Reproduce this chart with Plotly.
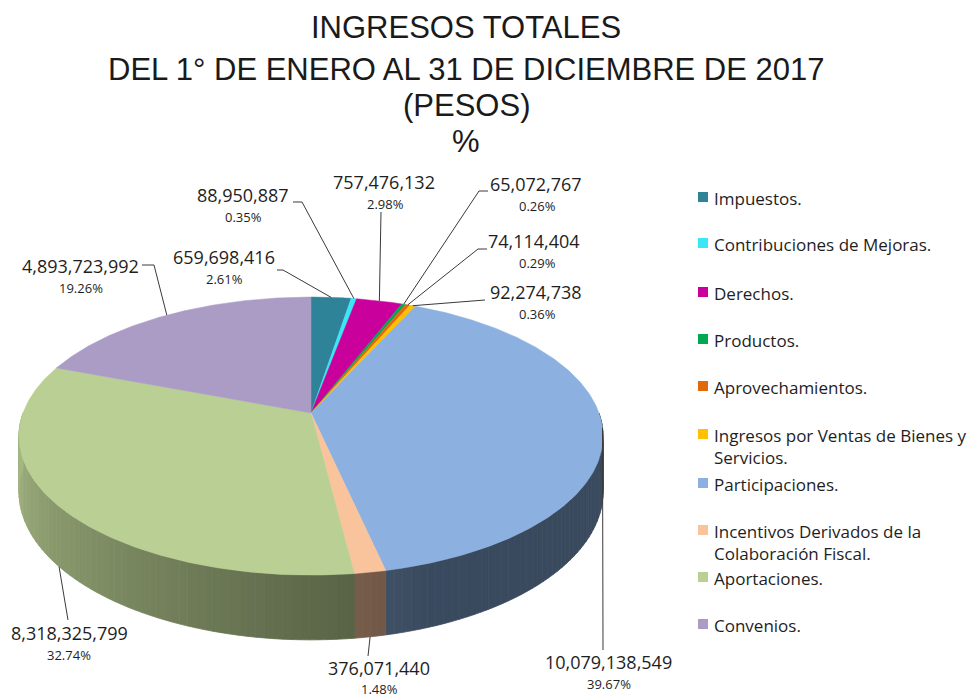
import numpy as np
import plotly.graph_objects as go

# ---------------- data ----------------
categories = ["Impuestos.", "Contribuciones de Mejoras.", "Derechos.", "Productos.",
              "Aprovechamientos.", "Ingresos por Ventas de Bienes y Servicios.",
              "Participaciones.", "Incentivos Derivados de la Colaboración Fiscal.",
              "Aportaciones.", "Convenios."]
values = [659698416, 88950887, 757476132, 65072767, 74114404, 92274738,
          10079138549, 376071440, 8318325799, 4893723992]
percent_labels = ["2.61%", "0.35%", "2.98%", "0.26%", "0.29%", "0.36%",
                  "39.67%", "1.48%", "32.74%", "19.26%"]
legend_labels = ["Impuestos.", "Contribuciones de Mejoras.", "Derechos.", "Productos.",
                 "Aprovechamientos.", "Ingresos por Ventas de Bienes y<br>Servicios.",
                 "Participaciones.", "Incentivos Derivados de la<br>Colaboración Fiscal.",
                 "Aportaciones.", "Convenios."]
title_lines = ["INGRESOS TOTALES", "DEL 1° DE ENERO AL 31 DE DICIEMBRE DE 2017", "(PESOS)", "%"]

# ---------------- styles / layout ----------------
colors = ["#2F8399", "#3BE6F6", "#C9009B", "#00A850", "#E2680C", "#FFC000",
          "#8CB1E0", "#F9C49C", "#BACF93", "#AA9CC4"]

CX, CY = 311.0, 413.0      # projected centre of the pie (pixels)
A, B = 288.0, 135.2        # horizontal / vertical radii
K = 0.166                  # perspective strength
D = 54.0                   # thickness

# label text centres (value line, percent line) and leader elbows
label_pos = [((224, 257), (224, 279)), ((243, 195), (243, 217)), ((384, 182), (385, 204)),
             ((536, 184), (537, 206)), ((534, 241), (537, 263)), ((536, 292), (537, 314)),
             ((608, 662), (609, 684)), ((379, 668), (379, 689)), ((69, 633), (69, 655)),
             ((80, 266), (81, 288))]
leader_elbows = [[(283, 270), (277, 270)], [(302, 202), (293, 202)], [(381, 212)],
                 [(479, 191), (488, 191)], [(478, 249), (487, 249)], [(485, 300)],
                 [(603, 650)], [(368, 656)], [(68, 620)], [(154, 265), (142, 265)]]
legend_y = [197, 243, 292, 339, 386, 434, 483, 530, 577, 624]
title_y = [27, 69, 105, 141]


def proj(theta, drop=0.0):
    t = np.radians(theta)
    u, v = np.sin(t), np.cos(t)
    w = 1 + K * v
    return CX + A * u / w, CY - B * v / w + drop * D / w


def shade(hexcol, f):
    h = hexcol.lstrip("#")
    r, g, b = (int(h[i:i + 2], 16) for i in (0, 2, 4))
    return "rgb(%d,%d,%d)" % (r * f, g * f, b * f)


total = float(sum(values))
frac = np.array(values, dtype=float) / total
ends = np.cumsum(frac) * 360.0
starts = ends - frac * 360.0

fig = go.Figure()

# ---- side walls (front half only) ----
STEP = 1.5
for i in range(len(values)):
    a, b = max(starts[i], 90.0), min(ends[i], 270.0)
    if a >= b:
        continue
    n = int(np.ceil((b - a) / STEP))
    edges = np.linspace(a, b, n + 1)
    for j in range(n):
        t0, t1 = edges[j], edges[j + 1]
        ts = np.linspace(t0, t1, 4)
        xt, yt = proj(ts, 0)
        xb, yb = proj(ts[::-1], 1)
        xs = np.concatenate([xt, xb, xt[:1]])
        ys = np.concatenate([yt, yb, yt[:1]])
        tm = 0.5 * (t0 + t1)
        tt = (270.0 - tm) / 180.0
        f = max(0.42, 0.9 - 0.78 * tt)
        c = shade(colors[i], f)
        fig.add_trace(go.Scatter(x=xs, y=ys, mode="lines", fill="toself", fillcolor=c,
                                 line=dict(color=c, width=0.8), hoverinfo="skip",
                                 showlegend=False))

# ---- top faces ----
for i in range(len(values)):
    n = max(3, int(np.ceil((ends[i] - starts[i]) / 0.5)))
    ts = np.linspace(starts[i], ends[i], n + 1)
    xa, ya = proj(ts, 0)
    xs = np.concatenate([[CX], xa, [CX]])
    ys = np.concatenate([[CY], ya, [CY]])
    fig.add_trace(go.Scatter(x=xs, y=ys, mode="lines", fill="toself", fillcolor=colors[i],
                             line=dict(color=colors[i], width=0.5), name=categories[i],
                             hovertemplate=categories[i] + "<br>%{text}<extra></extra>",
                             text=[f"{values[i]:,}"] * len(xs), showlegend=False))

# ---- leader lines ----
for i in range(len(values)):
    mid = 0.5 * (starts[i] + ends[i])
    if np.cos(np.radians(mid)) < -0.3:
        ax, ay = proj(mid, 1)
    else:
        ax, ay = proj(mid, 0)
    pts = [(ax, ay)] + leader_elbows[i]
    fig.add_trace(go.Scatter(x=[p[0] for p in pts], y=[p[1] for p in pts], mode="lines",
                             line=dict(color="#3a3a3a", width=1), hoverinfo="skip",
                             showlegend=False))

annotations = []
# data labels
for i in range(len(values)):
    (vx, vy), (px, py) = label_pos[i]
    annotations.append(dict(x=vx, y=vy, xref="x", yref="y", text=f"{values[i]:,}",
                            showarrow=False, xanchor="center", yanchor="middle",
                            font=dict(family="Open Sans", size=18, color="#1e1e1e")))
    annotations.append(dict(x=px, y=py, xref="x", yref="y", text=percent_labels[i],
                            showarrow=False, xanchor="center", yanchor="middle",
                            font=dict(family="Open Sans", size=13, color="#1e1e1e")))

# title
for k, line in enumerate(title_lines):
    annotations.append(dict(x=466, y=title_y[k], xref="x", yref="y", text=line,
                            showarrow=False, xanchor="center", yanchor="middle",
                            font=dict(family="Liberation Sans", size=31, color="#1a1a1a")))

# legend
shapes = []
for i in range(len(categories)):
    y0 = legend_y[i]
    shapes.append(dict(type="rect", xref="x", yref="y", x0=698, x1=708, y0=y0 - 5, y1=y0 + 5,
                       fillcolor=colors[i], line=dict(width=0)))
    annotations.append(dict(x=712, y=y0 - 12, xref="x", yref="y", text=legend_labels[i],
                            showarrow=False, xanchor="left", yanchor="top", align="left",
                            font=dict(family="Open Sans", size=17, color="#1e1e1e")))

fig.update_layout(
    width=980, height=700,
    margin=dict(l=0, r=0, t=0, b=0),
    paper_bgcolor="white", plot_bgcolor="white",
    showlegend=False,
    xaxis=dict(range=[0, 980], visible=False, fixedrange=True),
    yaxis=dict(range=[700, 0], visible=False, fixedrange=True),
    annotations=annotations, shapes=shapes,
)

fig.write_html("out.html", config={"displayModeBar": False},
               post_script="document.body.style.margin='0px';document.body.style.overflow='hidden';")
